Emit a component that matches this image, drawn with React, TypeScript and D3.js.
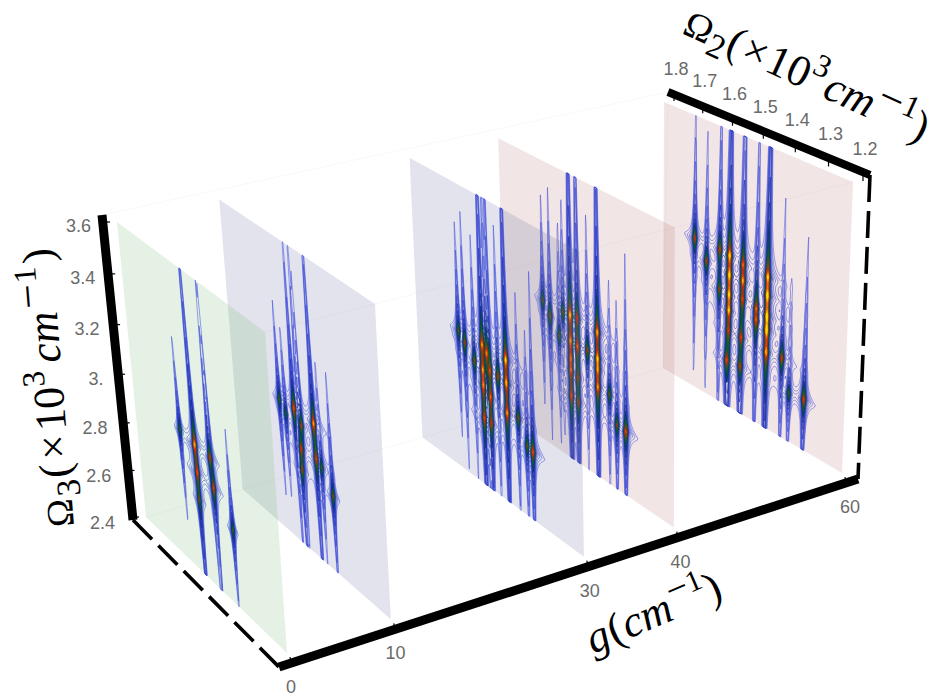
import React, { useMemo } from "react";
import * as d3 from "d3";

// [Ω2, Ω3, relative intensity] for each g
const gValues = [0, 10, 30, 40, 60];
const peaksG0 = [
  [1.592, 2.94, 0.28], [1.53, 2.93, 0.95], [1.528, 2.82, 0.7], [1.53, 2.71, 0.3],
  [1.466, 2.93, 0.55], [1.46, 2.815, 0.65], [1.39, 2.71, 0.3],
];
const peaksG10 = [
  [1.6, 2.945, 0.3], [1.576, 2.905, 0.25], [1.54, 2.955, 0.75], [1.513, 2.905, 0.45],
  [1.52, 2.805, 0.55], [1.522, 2.72, 0.4], [1.462, 2.955, 0.9], [1.46, 2.815, 0.6],
  [1.44, 2.795, 0.3], [1.4, 2.715, 0.4],
];
const peaksG30 = [
  [1.635, 2.994, 0.35], [1.612, 2.958, 0.45], [1.577, 2.908, 0.4], [1.546, 2.998, 0.8],
  [1.546, 2.893, 0.7], [1.546, 2.828, 0.7], [1.546, 2.688, 0.6], [1.53, 2.973, 0.9],
  [1.52, 2.908, 0.6], [1.52, 2.798, 0.65], [1.52, 2.688, 0.5], [1.49, 2.908, 0.5],
  [1.46, 2.998, 1.0], [1.46, 2.903, 0.85], [1.46, 2.778, 0.8], [1.42, 2.788, 0.4],
  [1.39, 2.698, 0.35], [1.37, 2.688, 0.7],
];
const peaksG40 = [
  [1.647, 3.015, 0.35], [1.621, 2.965, 0.45], [1.588, 2.905, 0.35], [1.574, 3.015, 0.35],
  [1.548, 3.02, 1.0], [1.548, 2.911, 0.7], [1.548, 2.835, 0.5], [1.548, 2.785, 0.5],
  [1.548, 2.675, 0.6], [1.523, 3.025, 0.55], [1.523, 2.905, 0.7], [1.523, 2.772, 0.4],
  [1.523, 2.665, 0.45], [1.488, 2.915, 0.45], [1.453, 3.015, 0.85], [1.453, 2.905, 0.8],
  [1.453, 2.86, 0.6], [1.453, 2.785, 0.7], [1.413, 2.785, 0.35], [1.388, 2.675, 0.4],
  [1.358, 2.671, 0.7],
];
const peaksG60 = [
  [1.689, 3.07, 0.55], [1.648, 2.995, 0.5], [1.603, 3.075, 0.55], [1.603, 2.9, 0.4],
  [1.57, 3.07, 0.95], [1.57, 2.985, 0.9], [1.57, 2.9, 0.8], [1.57, 2.83, 0.8],
  [1.57, 2.74, 0.4], [1.575, 2.605, 0.7], [1.525, 3.06, 0.6], [1.525, 2.99, 0.8],
  [1.525, 2.91, 0.5], [1.528, 2.74, 0.6], [1.53, 2.61, 0.5], [1.48, 2.9, 0.6],
  [1.48, 2.85, 0.6], [1.445, 3.06, 0.9], [1.445, 2.98, 1.0], [1.445, 2.89, 0.9],
  [1.445, 2.83, 1.0], [1.445, 2.735, 0.8], [1.395, 2.745, 0.6], [1.37, 2.61, 0.3],
  [1.323, 2.62, 0.65],
];
const planePeaks = [peaksG0, peaksG10, peaksG30, peaksG40, peaksG60];
const planeColors = [
  "rgba(130,190,130,0.22)", "rgba(110,115,160,0.2)", "rgba(110,115,160,0.2)",
  "rgba(170,100,100,0.17)", "rgba(170,100,100,0.17)",
];

const gTicks = [0, 10, 30, 40, 60];
const o2Ticks = [1.8, 1.7, 1.6, 1.5, 1.4, 1.3, 1.2];
const o3Ticks = [3.6, 3.4, 3.2, 3.0, 2.8, 2.6, 2.4];
const o3Labels = ["3.6", "3.4", "3.2", "3.", "2.8", "2.6", "2.4"];

// camera: where the planes g=0 and g=60 land on the page
type P = [number, number];
const nearQuad: P[] = [[117, 222], [265, 332], [287, 653], [146, 517]];
const farQuad: P[] = [[664, 102], [853, 182], [842, 473], [663, 368]];
const depth = 1.15;
const uScale = d3.scaleLinear().domain([1.8, 1.2]).range([0, 1]);
const vScale = d3.scaleLinear().domain([3.6, 2.4]).range([0, 1]);
const tScale = d3.scaleLinear().domain([0, 60]).range([0, 1]);

function homography(q: P[]) {
  const [[x0, y0], [x1, y1], [x2, y2], [x3, y3]] = q;
  const dx1 = x1 - x2, dx2 = x3 - x2, sx = x0 - x1 + x2 - x3;
  const dy1 = y1 - y2, dy2 = y3 - y2, sy = y0 - y1 + y2 - y3;
  const den = dx1 * dy2 - dx2 * dy1;
  const g = (sx * dy2 - dx2 * sy) / den;
  const h = (dx1 * sy - sx * dy1) / den;
  const a = x1 - x0 + g * x1, b = x3 - x0 + h * x3;
  const d = y1 - y0 + g * y1, e = y3 - y0 + h * y3;
  return (u: number, v: number): P => {
    const w = g * u + h * v + 1;
    return [(a * u + b * v + x0) / w, (d * u + e * v + y0) / w];
  };
}
function planeMap(g: number) {
  const t = tScale(g);
  const f = (depth * t) / (depth * t + 1 - t);
  const q = nearQuad.map((p, i): P => [
    p[0] + (farQuad[i][0] - p[0]) * f,
    p[1] + (farQuad[i][1] - p[1]) * f,
  ]);
  const H = homography(q);
  return (o2: number, o3: number) => H(uScale(o2), vScale(o3));
}

// frame of the box on the page
const frame = {
  o3Top: [102, 215] as P, o3Bottom: [133, 520] as P,
  origin: [279, 667] as P, gEnd: [858, 479] as P,
  o2Start: [668, 92] as P, o2End: [870, 175] as P,
};

const NX = 340, NY = 160;
const lowLevels = [0.006, 0.009, 0.013, 0.019, 0.027, 0.038, 0.055, 0.075];
const highLevels = d3.range(15).map((i) => 0.1 * Math.pow(1 / 0.1, i / 14));
const levels = [...lowLevels, ...highLevels];
const colour = d3.scaleLog<string>()
  .domain([0.006, 0.03, 0.09, 0.2, 0.55, 1.0])
  .range(["#3a48e0", "#2233c4", "#0f2a90", "#0a5e2a", "#dc260c", "#ffe400"])
  .clamp(true);

function planeContours(g: number, peaks: number[][]) {
  const map = planeMap(g);
  const o2g = d3.scaleLinear().domain([0, NX]).range([1.8, 1.2]);
  const o3g = d3.scaleLinear().domain([0, NY]).range([3.6, 2.4]);
  const values = new Float64Array(NX * NY);
  for (let j = 0; j < NY; j++) {
    const o3 = o3g(j + 0.5);
    for (let i = 0; i < NX; i++) {
      const o2 = o2g(i + 0.5);
      let s = 0;
      for (const [a, b, A] of peaks) {
        const d = o2 - a, dv = Math.abs(o3 - b) / 0.024;
        const x1 = d / 0.005, x2 = d / 0.0022, x3 = d / 0.02;
        const q = 1 + x1 * x1;
        const across = 0.75 / (q * q) + 0.22 / (1 + x2 * x2) + 0.03 / (1 + x3 * x3);
        s += (A * across) / (1 + Math.pow(dv, 1.4));
      }
      values[j * NX + i] = s;
    }
  }
  const cs = d3.contours().size([NX, NY]).thresholds(levels)(values as unknown as number[]);
  return cs.map((c) => {
    let d = "";
    for (const poly of c.coordinates) for (const ring of poly) {
      ring.forEach((pt, i) => {
        const [x, y] = map(o2g(pt[0]), o3g(pt[1]));
        d += (i ? "L" : "M") + x.toFixed(1) + " " + y.toFixed(1);
      });
      d += "Z";
    }
    return { d, level: c.value, color: colour(c.value) };
  }).filter((c) => c.d);
}

const sansFont = "'Liberation Sans', Arial, sans-serif";
const serifFont = "'Liberation Serif', 'DejaVu Serif', serif";
const tickGrey = "#6a6a6a";

// text, size, rise, extra gap before, italic
type Part = [string, number, number, number, boolean?];
const omegaParts = (n: string, k: number): Part[] => [
  ["Ω", 38, 0, 0], [n, 34, 9, 2 * k], ["(", 44, 0, 2 * k], ["×", 44, 0, 4 * k], ["10", 44, 0, 4 * k],
  ["3", 32, -18, 1 * k], ["cm", 44, 0, 7 * k, true], ["−", 44, -13, 4 * k], ["1", 32, -18, 1 * k], [")", 44, 0, 3 * k],
];
const gParts: Part[] = [
  ["g", 44, 0, 0, true], ["(", 44, 0, 1], ["cm", 44, 0, 1, true], ["−", 38, -15, 2], ["1", 30, -18, 0], [")", 44, 0, 0],
];

function MathLabel({ x, y, angle, parts }: { x: number; y: number; angle: number; parts: Part[] }) {
  let rise = 0;
  return (
    <text transform={`translate(${x},${y}) rotate(${angle})`} fontFamily={serifFont} fill="#000">
      {parts.map(([s, size, r, gap, it], i) => {
        const dy = r - rise;
        rise = r;
        return <tspan key={i} dx={gap} dy={dy} fontSize={size} fontStyle={it ? "italic" : "normal"}>{s}</tspan>;
      })}
    </text>
  );
}

export default function App() {
  const planes = useMemo(() => gValues.map((g, i) => ({
    g,
    fill: planeColors[i],
    quad: [planeMap(g)(1.8, 3.6), planeMap(g)(1.2, 3.6), planeMap(g)(1.2, 2.4), planeMap(g)(1.8, 2.4)],
    contours: planeContours(g, planePeaks[i]),
  })), []);
  const line = d3.line();
  const far = planeMap(60), near = planeMap(0);
  const faint = [
    [frame.o3Top, frame.o2Start],
    [near(1.2, 3.6), far(1.2, 3.6)],
    [near(1.8, 2.4), far(1.8, 2.4)],
    [frame.o2Start, far(1.8, 2.4)],
  ] as P[][];
  return (
    <svg width={935} height={698} style={{ position: "absolute", left: 0, top: 0 }}>
      <rect width={935} height={698} fill="#fff" />
      {faint.map((l, i) => (
        <path key={i} d={line(l) as string} stroke="#000" strokeOpacity={0.03} fill="none" />
      ))}
      {[...planes].reverse().map((p) => (
        <g key={p.g}>
          <path d={line(p.quad as P[]) + "Z"} fill={p.fill} />
          {p.contours.map((c, i) => (
            <path key={i} d={c.d} stroke={c.color} strokeWidth={0.8}
              strokeOpacity={c.level < 0.03 ? 0.65 : 0.9}
              fill={c.level > 0.09 ? c.color : "none"} strokeLinejoin="round" />
          ))}
        </g>
      ))}
      <g stroke="#000" fill="none" strokeLinecap="butt">
        <path d={line([frame.o3Bottom, frame.origin]) as string} strokeWidth={3.6} strokeDasharray="27 9" />
        <path d={line([frame.o2End, [frame.gEnd[0], frame.gEnd[1]]]) as string} strokeWidth={3.6} strokeDasharray="27 9" />
        <path d={line([frame.o3Top, frame.o3Bottom]) as string} strokeWidth={9} />
        <path d={line([frame.origin, frame.gEnd]) as string} strokeWidth={9} />
        <path d={line([frame.o2Start, frame.o2End]) as string} strokeWidth={8} />
        {gTicks.map((g) => {
          const [x, y] = planeMap(g)(1.2, 2.4);
          return <path key={g} d={`M${x + 3} ${y + 4}L${x + 4} ${y + 10}`} strokeWidth={1.2} />;
        })}
        {o2Ticks.map((o) => {
          const [x, y] = far(o, 3.6);
          return <path key={o} d={`M${x + 10} ${y - 7}L${x + 10} ${y - 1}`} strokeWidth={1.2} />;
        })}
        {o3Ticks.map((o) => {
          const [x, y] = near(1.8, o);
          return <path key={o} d={`M${x - 14} ${y}L${x - 7} ${y}`} strokeWidth={1.2} />;
        })}
      </g>
      <g fontFamily={sansFont} fontSize={18} fill={tickGrey}>
        {gTicks.map((g) => {
          const [x, y] = planeMap(g)(1.2, 2.4);
          return <text key={g} x={x + 4 + (g / 60) * 4} y={y + 40} textAnchor="middle">{g}</text>;
        })}
        {o2Ticks.map((o) => {
          const [x, y] = far(o, 3.6);
          return <text key={o} x={x + 12} y={y - 27} textAnchor="middle">{o.toFixed(1)}</text>;
        })}
        {o3Ticks.map((o, i) => {
          const [x, y] = near(1.8, o);
          const v = vScale(o);
          return <text key={o} x={x - 26 - 5 * v} y={y + 10 + 2 * v} textAnchor="end">{o3Labels[i]}</text>;
        })}
      </g>
      <MathLabel x={74} y={526} angle={-94.6} parts={omegaParts("3", 1)} />
      <MathLabel x={681} y={33} angle={24.5} parts={omegaParts("2", 0.45)} />
      <MathLabel x={593} y={654} angle={-23} parts={gParts} />
    </svg>
  );
}
